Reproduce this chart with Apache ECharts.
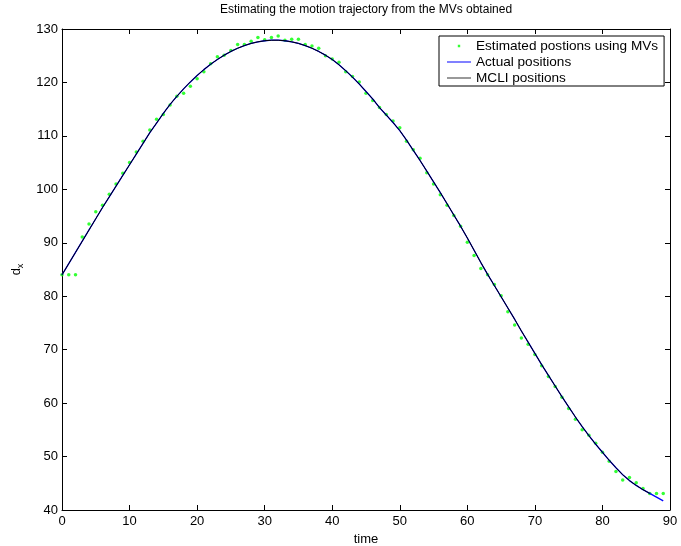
<!DOCTYPE html>
<html>
<head>
    <meta charset="utf-8">
    <title>Motion trajectory</title>
    <script src="https://cdn.jsdelivr.net/npm/echarts@6/dist/echarts.min.js"></script>
</head>
<body style="margin:0">
<div id="main" style="width: 681px;height:546px;"></div>
<script type="text/javascript">
    // estimated positions from the MVs, one per time step (t = 0 .. 89)
    var estimated = [
        84.0, 84.0, 84.0, 91.1, 93.5, 95.8, 97.0, 99.1, 101.0, 103.0,
        105.0, 107.0, 109.0, 111.1, 113.1, 114.0, 115.8, 117.4, 118.0, 119.3,
        120.7, 122.0, 123.5, 124.8, 125.1, 126.0, 127.1, 127.1, 127.7, 128.4,
        128.0, 128.4, 128.7, 127.9, 128.1, 128.1, 127.1, 126.8, 126.4, 125.0,
        124.4, 123.8, 122.0, 121.1, 120.1, 118.0, 116.6, 115.3, 114.0, 112.8,
        111.5, 109.0, 107.4, 105.8, 103.1, 101.0, 99.0, 97.0, 95.1, 93.1,
        90.1, 87.6, 85.2, 84.0, 82.2, 80.1, 77.1, 74.6, 72.2, 71.0,
        69.1, 67.0, 65.0, 63.1, 61.1, 59.0, 57.0, 55.0, 54.0, 52.5,
        50.8, 49.1, 47.2, 45.6, 46.1, 45.1, 44.0, 43.1, 43.1, 43.1
    ];

    // actual positions (t = 0 .. 89)
    var actual = [
        84.0, 86.1, 88.2, 90.3, 92.4, 94.5, 96.6, 98.6, 100.6, 102.6,
        104.6, 106.6, 108.6, 110.6, 112.4, 114.2, 115.9, 117.4, 118.8, 120.1,
        121.3, 122.4, 123.4, 124.3, 125.1, 125.8, 126.4, 126.9, 127.3, 127.6,
        127.8, 127.9, 127.9, 127.8, 127.6, 127.3, 126.9, 126.4, 125.8, 125.1,
        124.3, 123.3, 122.2, 121.0, 119.7, 118.3, 116.9, 115.3, 113.9, 112.5,
        111.0, 109.2, 107.3, 105.4, 103.4, 101.4, 99.4, 97.3, 95.2, 93.1,
        90.9, 88.6, 86.3, 84.1, 82.0, 79.9, 77.8, 75.7, 73.5, 71.4,
        69.3, 67.2, 65.2, 63.2, 61.2, 59.3, 57.4, 55.6, 53.9, 52.3,
        50.8, 49.3, 47.9, 46.6, 45.5, 44.6, 43.8, 43.1, 42.4, 41.7
    ];

    // MCLI positions (t = 0 .. 87)
    var mcli = [
        84.0, 86.1, 88.2, 90.3, 92.4, 94.5, 96.6, 98.6, 100.6, 102.6,
        104.6, 106.6, 108.6, 110.6, 112.4, 114.2, 115.9, 117.4, 118.8, 120.1,
        121.3, 122.4, 123.4, 124.3, 125.1, 125.8, 126.4, 126.9, 127.3, 127.6,
        127.8, 127.9, 127.9, 127.8, 127.6, 127.3, 126.9, 126.4, 125.8, 125.1,
        124.3, 123.3, 122.2, 121.0, 119.7, 118.3, 116.9, 115.3, 113.9, 112.5,
        111.0, 109.2, 107.3, 105.4, 103.4, 101.4, 99.4, 97.3, 95.2, 93.1,
        90.9, 88.6, 86.3, 84.1, 82.0, 79.9, 77.8, 75.7, 73.5, 71.4,
        69.3, 67.2, 65.2, 63.2, 61.2, 59.3, 57.4, 55.6, 53.9, 52.3,
        50.8, 49.3, 47.9, 46.6, 45.5, 44.6, 43.8, 43.1
    ];

    var xTicks = [0, 10, 20, 30, 40, 50, 60, 70, 80, 90];
    var yTicks = [40, 50, 60, 70, 80, 90, 100, 110, 120, 130];

    var seriesNames = ['Estimated postions using MVs', 'Actual positions', 'MCLI positions'];

    function pairs(arr) {
        return arr.map(function (v, i) { return [i, v]; });
    }

    var font = 'Liberation Sans, Arial, Helvetica, sans-serif';
    var black = '#000';

    function makeAxis(pos, ticks, isX, showLabel) {
        return {
            type: 'value',
            position: pos,
            min: ticks[0],
            max: ticks[ticks.length - 1],
            interval: ticks[1] - ticks[0],
            splitLine: {show: false},
            axisLine: {show: true, onZero: false, lineStyle: {color: black, width: 1}},
            axisTick: {show: true, inside: true, length: 5, lineStyle: {color: black}},
            axisLabel: {show: showLabel, color: black, fontSize: 13, fontFamily: font, margin: isX ? 5 : 4}
        };
    }

    var xBottom = makeAxis('bottom', xTicks, true, true);
    xBottom.name = 'time';
    xBottom.nameLocation = 'middle';
    xBottom.nameGap = 21;
    xBottom.nameTextStyle = {color: black, fontSize: 13, fontFamily: font};

    var yLeft = makeAxis('left', yTicks, false, true);
    yLeft.name = 'd{sub|x}';
    yLeft.nameLocation = 'middle';
    yLeft.nameRotate = 90;
    yLeft.nameGap = 36;
    yLeft.nameTextStyle = {
        color: black, fontSize: 13, fontFamily: font,
        rich: {sub: {fontSize: 9, fontFamily: font, color: black, verticalAlign: 'bottom', lineHeight: 18}}
    };

    // legend icons: a small dot, and thin horizontal strokes
    var dotIcon = 'path://M0,0L0.1,0ZM40,40h20v20h-20ZM100,100L100.1,100Z';
    var lineIcon = 'path://M0,0h24v1h-24Z';

    var myChart = echarts.init(document.getElementById('main'));

    var option = {
        backgroundColor: '#fff',
        animation: false,
        grid: {left: 62, right: 11, top: 29, bottom: 36, containLabel: false, outerBoundsMode: 'none'},
        graphic: [{
            type: 'text',
            x: 366,
            y: 4,
            style: {
                text: 'Estimating the motion trajectory from the MVs obtained',
                fill: black,
                font: '12px ' + font,
                textAlign: 'center'
            }
        }],
        legend: {
            orient: 'vertical',
            left: 439,
            top: 36,
            backgroundColor: '#fff',
            borderColor: black,
            borderWidth: 1,
            borderRadius: 0,
            padding: [2, 6, 0, 8],
            itemGap: 0,
            itemWidth: 24,
            itemHeight: 12,
            textStyle: {color: black, fontSize: 13.6, fontFamily: font, lineHeight: 16},
            data: [
                {name: seriesNames[0], icon: dotIcon, itemStyle: {color: '#00ff00'}},
                {name: seriesNames[1], icon: lineIcon, itemStyle: {color: '#0000ff'}},
                {name: seriesNames[2], icon: lineIcon, itemStyle: {color: '#333'}}
            ]
        },
        xAxis: [xBottom, makeAxis('top', xTicks, true, false)],
        yAxis: [yLeft, makeAxis('right', yTicks, false, false)],
        series: [
            {
                name: seriesNames[0],
                type: 'scatter',
                xAxisIndex: 0,
                yAxisIndex: 0,
                symbol: 'circle',
                symbolSize: 3.5,
                itemStyle: {color: '#00ff00'},
                data: pairs(estimated)
            },
            {
                name: seriesNames[1],
                type: 'line',
                xAxisIndex: 0,
                yAxisIndex: 0,
                symbol: 'none',
                showSymbol: false,
                lineStyle: {color: '#0000ff', width: 1.3},
                itemStyle: {color: '#0000ff'},
                data: pairs(actual)
            },
            {
                name: seriesNames[2],
                type: 'line',
                xAxisIndex: 0,
                yAxisIndex: 0,
                symbol: 'none',
                showSymbol: false,
                lineStyle: {color: black, width: 1},
                itemStyle: {color: black},
                data: pairs(mcli)
            }
        ]
    };

    myChart.setOption(option);
</script>
</body>
</html>
